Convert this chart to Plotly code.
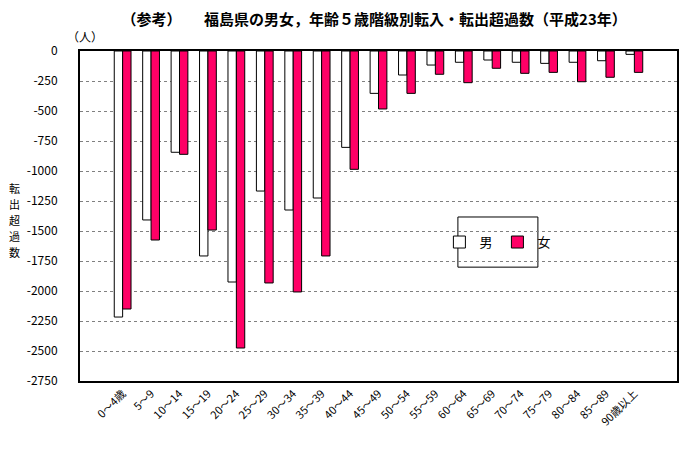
import plotly.graph_objects as go

categories = ["0～4歳", "5～9", "10～14", "15～19", "20～24", "25～29", "30～34",
              "35～39", "40～44", "45～49", "50～54", "55～59", "60～64", "65～69",
              "70～74", "75～79", "80～84", "85～89", "90歳以上"]
male = [-2217, -1408, -844, -1708, -1925, -1167, -1325, -1225, -803, -353,
        -200, -117, -94, -75, -94, -103, -94, -81, -28]
female = [-2150, -1575, -861, -1492, -2475, -1933, -2008, -1708, -986, -483,
          -353, -194, -264, -144, -186, -178, -256, -219, -178]
y_ticks = list(range(0, -2751, -250))
y_title_chars = ["転", "出", "超", "過", "数"]

FONT = "Noto Sans CJK JP"
idx = list(range(len(categories)))

fig = go.Figure()
fig.add_trace(go.Bar(x=idx, y=male, name="男", marker=dict(color="white", line=dict(color="black", width=1))))
fig.add_trace(go.Bar(x=idx, y=female, name="女", marker=dict(color="#FF0066", line=dict(color="black", width=1))))

annotations = [
    dict(text="（人）", xref="paper", yref="paper", x=-0.025, y=1.012, xanchor="left", yanchor="bottom",
         showarrow=False, font=dict(size=12, family=FONT)),
]
for i, ch in enumerate(y_title_chars):
    annotations.append(dict(text=ch, xref="paper", yref="paper", x=-0.109, y=0.585 - i * 0.0485,
                            xanchor="center", yanchor="middle", showarrow=False,
                            font=dict(size=11, family=FONT)))

fig.update_layout(
    width=687, height=442,
    margin=dict(l=72, r=18, t=43, b=69),
    paper_bgcolor="white", plot_bgcolor="white",
    font=dict(family=FONT, color="black", size=12),
    barmode="group", bargap=0.41, bargroupgap=0,
    title=dict(text="<b>（参考）　　福島県の男女，年齢５歳階級別転入・転出超過数（平成23年）</b>",
               x=0.533, xanchor="center", y=0.973, yanchor="middle",
               font=dict(family=FONT, size=15, color="black")),
    showlegend=True,
    legend=dict(orientation="h", x=0.70, y=0.421, xanchor="center", yanchor="middle",
                bgcolor="rgba(0,0,0,0)", borderwidth=0, font=dict(size=13, family=FONT),
                itemwidth=30, traceorder="normal"),
    shapes=[dict(type="rect", xref="paper", yref="paper", x0=0.633, x1=0.767, y0=0.345, y1=0.497,
                 line=dict(color="black", width=1), fillcolor="white", layer="below")],
    annotations=annotations,
)
fig.update_xaxes(
    range=[-1.5, len(categories) + 0.5], tickmode="array", tickvals=idx, ticktext=categories,
    tickangle=-45, showgrid=False, showline=True, linecolor="black", linewidth=2, mirror=True,
    ticks="", tickfont=dict(size=11, family=FONT), zeroline=False,
)
fig.update_yaxes(
    range=[-2750, 0], tickmode="array", tickvals=y_ticks, ticktext=[str(v) for v in y_ticks],
    showgrid=True, gridcolor="#808080", griddash="dot", gridwidth=1,
    showline=True, linecolor="black", linewidth=2, mirror=True, ticks="", zeroline=False,
    tickfont=dict(size=12, family=FONT), ticklabelstandoff=18,
)
fig.write_html("out.html")
